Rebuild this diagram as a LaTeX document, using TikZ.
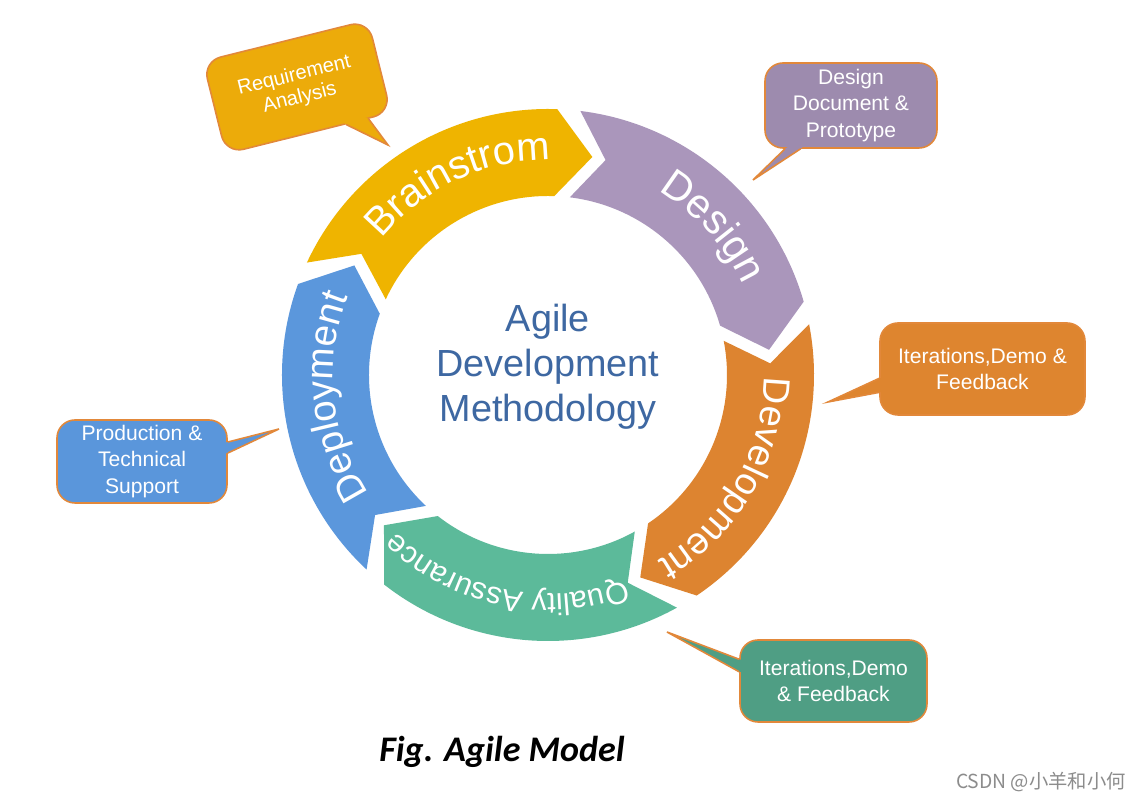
\documentclass[tikz,border=0pt]{standalone}
\usepackage{fontspec}
\setmainfont{Liberation Sans}
\newfontfamily\capfont{Carlito}
\newfontfamily\cjkfont{Noto Sans CJK SC}
\usepackage{tikz}
\usetikzlibrary{calc,decorations.text}

\definecolor{brainYellow}{RGB}{239,180,0}
\definecolor{designPurple}{RGB}{170,150,187}
\definecolor{devOrange}{RGB}{221,132,48}
\definecolor{qaGreen}{RGB}{92,186,154}
\definecolor{deployBlue}{RGB}{91,151,220}
\definecolor{reqYellow}{RGB}{236,171,10}
\definecolor{docPurple}{RGB}{157,139,174}
\definecolor{iterOrange}{RGB}{222,133,47}
\definecolor{iterGreen}{RGB}{79,158,132}
\definecolor{prodBlue}{RGB}{90,150,219}
\definecolor{calloutEdge}{RGB}{226,136,58}
\definecolor{titleBlue}{RGB}{62,104,162}

\begin{document}
\begin{tikzpicture}[
    segtext/.style={decorate, decoration={text along path, text align=center, text color=white}},
    callbox/.style={draw=calloutEdge, line width=0.9pt, rounded corners=0.36cm, text=white,
        align=center, inner sep=2pt, font=\fontsize{12}{15.3}\selectfont},
    pointer/.style={draw=calloutEdge, line width=0.9pt}
]
    % background and size
    \fill[white] (-10.96,7.5) rectangle (11.86,-8.5);

    % Brainstrom
    \fill[brainYellow] (155:5.32) arc[start angle=155, end angle=88, radius=5.32] -- (78.5:4.45)
        -- (88:3.58) arc[start angle=88, end angle=155, radius=3.58] -- (147:4.45) -- cycle;
    \path[segtext, decoration={text={|\fontsize{22.7}{22.7}\selectfont|Brainstrom}}]
        (155:4.3) arc[start angle=155, end angle=75, radius=4.3];

    % Design
    \fill[designPurple] (83:5.32) arc[start angle=83, end angle=16, radius=5.32] -- (6.5:4.45)
        -- (16:3.58) arc[start angle=16, end angle=83, radius=3.58] -- (75:4.45) -- cycle;
    \path[segtext, decoration={text={|\fontsize{23.5}{23.5}\selectfont|Design}}]
        (82:4.3) arc[start angle=82, end angle=2, radius=4.3];

    % Development
    \fill[devOrange] (11:5.32) arc[start angle=11, end angle=-56, radius=5.32] -- (-65.5:4.45)
        -- (-56:3.58) arc[start angle=-56, end angle=11, radius=3.58] -- (3:4.45) -- cycle;
    \path[segtext, decoration={text={|\fontsize{21.5}{21.5}\selectfont|Development}}]
        (10:4.32) arc[start angle=10, end angle=-70, radius=4.32];

    % Quality Assurance
    \fill[qaGreen] (-61:5.32) arc[start angle=-61, end angle=-128, radius=5.32] -- (-137.5:4.45)
        -- (-128:3.58) arc[start angle=-128, end angle=-61, radius=3.58] -- (-69:4.45) -- cycle;
    \path[segtext, decoration={text={|\fontsize{17.3}{17.3}\selectfont|Quality Assurance}}]
        (-61.7:4.38) arc[start angle=-61.7, end angle=-141.7, radius=4.38];

    % Deployment
    \fill[deployBlue] (227:5.32) arc[start angle=227, end angle=160, radius=5.32] -- (150.5:4.45)
        -- (160:3.58) arc[start angle=160, end angle=227, radius=3.58] -- (219:4.45) -- cycle;
    \path[segtext, decoration={text={|\fontsize{21.9}{21.9}\selectfont|Deployment}}]
        (226:4.3) arc[start angle=226, end angle=146, radius=4.3];

    % centre title
    \node[font=\fontsize{21.5}{25.6}\selectfont, text=titleBlue, align=center] (title) at (0,0.16)
        {Agile\\Development\\Methodology};

    % Requirement Analysis
    \node[callbox, fill=reqYellow, rotate=14, minimum width=3.4cm, minimum height=1.9cm,
        font=\fontsize{11.5}{13}\selectfont] (req) at (-5.02,5.76) {Requirement\\Analysis};
    \coordinate (reqtip) at (-3.2,4.6);
    \coordinate (reqa) at ($(req.south)!0.45!(req.south east)$);
    \coordinate (reqb) at ($(req.south)!0.72!(req.south east)$);
    \fill[reqYellow] ($(req.center)!0.85!(reqa)$) -- (reqa) -- (reqtip) -- (reqb) -- ($(req.center)!0.85!(reqb)$) -- cycle;
    \draw[pointer] (reqa) -- (reqtip) -- (reqb);

    % Design Document & Prototype
    \node[callbox, fill=docPurple, minimum width=3.44cm, minimum height=1.7cm] (doc) at (6.06,5.39)
        {Design\\Document \&\\Prototype};
    \coordinate (doctip) at (4.1,3.9);
    \coordinate (doca) at ($(doc.south west)!0.12!(doc.south east)$);
    \coordinate (docb) at ($(doc.south west)!0.21!(doc.south east)$);
    \fill[docPurple] ($(doc.center)!0.85!(doca)$) -- (doca) -- (doctip) -- (docb) -- ($(doc.center)!0.85!(docb)$) -- cycle;
    \draw[pointer] (doca) -- (doctip) -- (docb);

    % Iterations (orange)
    \node[callbox, fill=iterOrange, minimum width=4.1cm, minimum height=1.84cm] (itr) at (8.69,0.12)
        {Iterations,Demo \&\\Feedback};
    \coordinate (itrtip) at (5.6,-0.54);
    \coordinate (itra) at ($(itr.north west)!0.6!(itr.south west)$);
    \coordinate (itrb) at ($(itr.north west)!0.75!(itr.south west)$);
    \fill[iterOrange] ($(itr.center)!0.9!(itra)$) -- (itra) -- (itrtip) -- (itrb) -- ($(itr.center)!0.9!(itrb)$) -- cycle;
    \draw[pointer] (itra) -- (itrtip) -- (itrb);

    % Production & Technical Support
    \node[callbox, fill=prodBlue, minimum width=3.4cm, minimum height=1.66cm] (prod) at (-8.12,-1.73)
        {Production \&\\Technical\\Support};
    \coordinate (prodtip) at (-5.38,-1.08);
    \coordinate (proda) at ($(prod.north east)!0.27!(prod.south east)$);
    \coordinate (prodb) at ($(prod.north east)!0.40!(prod.south east)$);
    \fill[prodBlue] ($(prod.center)!0.9!(proda)$) -- (proda) -- (prodtip) -- (prodb) -- ($(prod.center)!0.9!(prodb)$) -- cycle;
    \draw[pointer] (proda) -- (prodtip) -- (prodb);

    % Iterations (green)
    \node[callbox, fill=iterGreen, minimum width=3.74cm, minimum height=1.64cm] (itg) at (5.71,-6.12)
        {Iterations,Demo\\\& Feedback};
    \coordinate (itgtip) at (2.38,-5.14);
    \coordinate (itga) at ($(itg.north west)!0.24!(itg.south west)$);
    \coordinate (itgb) at ($(itg.north west)!0.39!(itg.south west)$);
    \fill[iterGreen] ($(itg.center)!0.9!(itga)$) -- (itga) -- (itgtip) -- (itgb) -- ($(itg.center)!0.9!(itgb)$) -- cycle;
    \draw[pointer] (itga) -- (itgtip) -- (itgb);

    % caption and mark
    \node[font=\capfont\bfseries\itshape\fontsize{20.5}{23}\selectfont] (caption) at (-0.92,-7.54) {Fig. Agile Model};
    \node[font=\cjkfont\fontsize{11}{13}\selectfont, text=black!45] (mark) at (9.86,-8.14) {CSDN @小羊和小何};
\end{tikzpicture}
\end{document}
